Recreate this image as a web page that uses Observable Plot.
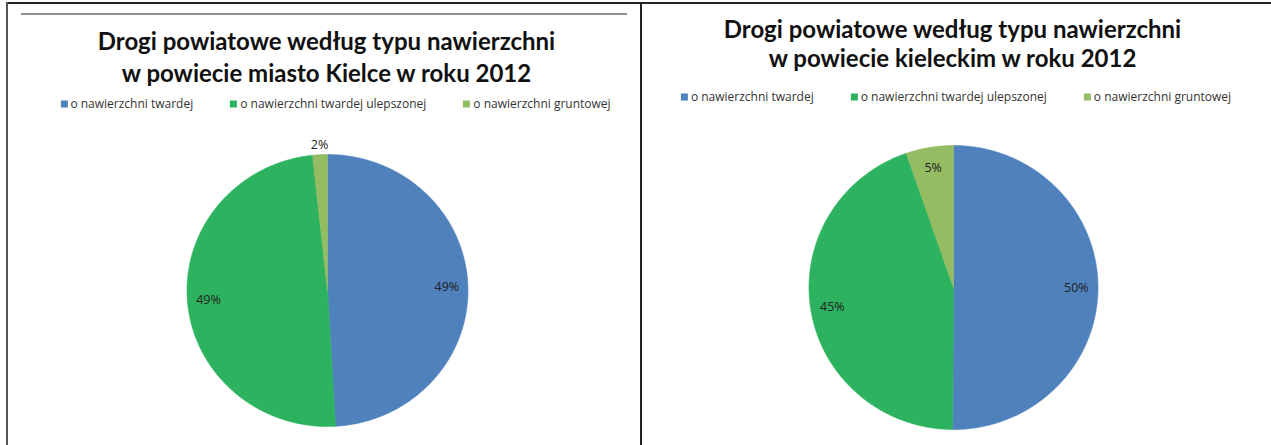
<!DOCTYPE html>
<html>
<head>
<meta charset="utf-8">
<script src="https://cdn.jsdelivr.net/npm/d3@7"></script>
<script src="https://cdn.jsdelivr.net/npm/@observablehq/plot@0.6"></script>
<style>
  html, body { margin: 0; padding: 0; background: #fff; }
  #page { position: relative; width: 1271px; height: 445px; overflow: hidden; background: #fff; }
  .line { position: absolute; }
  .title { position: absolute; transform: translate(-50%, -50%); white-space: nowrap;
           font-family: Lato, "Open Sans", sans-serif; font-weight: 700; color: #111; font-size: 24px; }
  .legend { position: absolute; transform: translate(-50%, -50%); display: flex; gap: 37px; white-space: nowrap;
            font-family: "Open Sans", Lato, sans-serif; font-size: 12px; color: #333; align-items: center; }
  .legend .sw { display: inline-block; width: 7px; height: 7px; margin-right: 3px; vertical-align: middle; }
  .plotbox { position: absolute; }
</style>
</head>
<body>
<div id="page">
  <div class="line" style="left:6px;top:2px;width:1265px;height:2px;background:#222"></div>
  <div class="line" style="left:6px;top:2px;width:2px;height:443px;background:#555"></div>
  <div class="line" style="left:640px;top:2px;width:2px;height:443px;background:#222"></div>
  <div class="line" style="left:21px;top:13px;width:606px;height:2px;background:#8a9290"></div>
</div>
<script>
// ---- data ----
const categories = ["o nawierzchni twardej", "o nawierzchni twardej ulepszonej", "o nawierzchni gruntowej"];
const colors = ["#4F81BD", "#2DB35F", "#94BC62"];
const valuesKielce = [49.1, 49.2, 1.7];
const valuesKielecki = [50.1, 44.6, 5.3];
const titleKielce = ["Drogi powiatowe według typu nawierzchni", "w powiecie miasto Kielce w roku 2012"];
const titleKielecki = ["Drogi powiatowe według typu nawierzchni", "w powiecie kieleckim w roku 2012"];

// ---- layout ----
const panels = [
  {title: titleKielce, values: valuesKielce, cx: 326.5, cy: 290, rx: 140.5, ry: 136, t1: 40, t2: 72, ly: 103, lx: 335.5},
  {title: titleKielecki, values: valuesKielecki, cx: 952.5, cy: 287, rx: 144.5, ry: 142, t1: 28, t2: 57, ly: 96, lx: 956}
];

const page = document.getElementById("page");

for (const p of panels) {
  // titles
  p.title.forEach((t, i) => {
    const d = document.createElement("div");
    d.className = "title";
    d.textContent = t;
    d.style.left = p.cx + "px";
    d.style.top = (i === 0 ? p.t1 : p.t2) + "px";
    page.appendChild(d);
  });
  // legend
  const lg = document.createElement("div");
  lg.className = "legend";
  lg.style.left = p.lx + "px";
  lg.style.top = p.ly + "px";
  categories.forEach((c, i) => {
    const it = document.createElement("span");
    const sw = document.createElement("span");
    sw.className = "sw";
    sw.style.background = colors[i];
    it.appendChild(sw);
    it.appendChild(document.createTextNode(c));
    lg.appendChild(it);
  });
  page.appendChild(lg);

  // pie
  const rows = categories.map((c, i) => ({category: c, value: p.values[i], color: colors[i]}));
  const total = d3.sum(rows, d => d.value);
  const arcs = d3.pie().sort(null).value(d => d.value)(rows);
  const marks = [];
  const labels = [];
  for (const a of arcs) {
    const pts = [{x: 0, y: 0}];
    const n = Math.max(2, Math.ceil((a.endAngle - a.startAngle) / (Math.PI / 360)));
    for (let k = 0; k <= n; k++) {
      const ang = a.startAngle + (a.endAngle - a.startAngle) * k / n;
      pts.push({x: Math.sin(ang), y: Math.cos(ang)});
    }
    pts.push({x: 0, y: 0});
    marks.push(Plot.line(pts, {x: "x", y: "y", fill: a.data.color, stroke: a.data.color, strokeWidth: 0.6, curve: "linear"}));
    const share = a.data.value / total;
    const mid = (a.startAngle + a.endAngle) / 2;
    const kr = share < 0.03 ? 1.07 : 0.85;
    labels.push({x: kr * Math.sin(mid), y: kr * Math.cos(mid), text: Math.round(share * 100) + "%"});
  }
  marks.push(Plot.text(labels, {x: "x", y: "y", text: "text", fontSize: 12.5, fill: "#222",
    fontFamily: "'Open Sans', sans-serif"}));

  const W = 400, H = 330, ox = W / 2, oy = H / 2;
  const chart = Plot.plot({
    width: W, height: H, margin: 0,
    x: {domain: [-1, 1], range: [ox - p.rx, ox + p.rx], axis: null},
    y: {domain: [-1, 1], range: [oy + p.ry, oy - p.ry], axis: null},
    style: {background: "transparent", overflow: "visible"},
    marks
  });
  const box = document.createElement("div");
  box.className = "plotbox";
  box.style.left = (p.cx - ox) + "px";
  box.style.top = (p.cy - oy) + "px";
  box.appendChild(chart);
  page.appendChild(box);
}
</script>
</body>
</html>
